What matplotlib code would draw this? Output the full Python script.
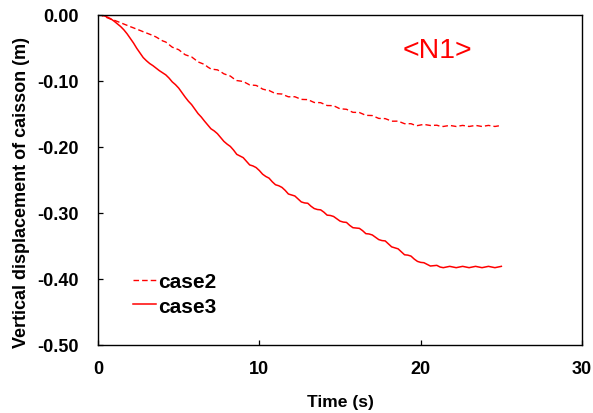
import numpy as np
import matplotlib
matplotlib.use('Agg')
matplotlib.rcParams.update({
    'font.family': ['Liberation Sans', 'DejaVu Sans'],
    'axes.unicode_minus': False,
})
import matplotlib.pyplot as plt
from matplotlib.ticker import FormatStrFormatter

# time grid, 0.2 s sampling from 0 to 25 s
time_s = np.linspace(0.0, 25.0, 126)

# case2 (dashed): vertical displacement (m)
case2 = [
    0.0, -0.001, -0.003, -0.005, -0.007, -0.0085, -0.0104, -0.0123, -0.0143, -0.0162,
    -0.0182, -0.0201, -0.0220, -0.0239, -0.0259, -0.0278, -0.0297, -0.0316, -0.0339, -0.0368,
    -0.0397, -0.0415, -0.0454, -0.0493, -0.0512, -0.0531, -0.0570, -0.0607, -0.0624, -0.0640,
    -0.0677, -0.0716, -0.0735, -0.0754, -0.0793, -0.0823, -0.0830, -0.0836, -0.0863, -0.0896,
    -0.0913, -0.0930, -0.0967, -0.0998, -0.1005, -0.1012, -0.1038, -0.1064, -0.1068, -0.1072,
    -0.1096, -0.1127, -0.1140, -0.1148, -0.1172, -0.1195, -0.1199, -0.1202, -0.1224, -0.1244,
    -0.1243, -0.1243, -0.1263, -0.1283, -0.1285, -0.1286, -0.1308, -0.1330, -0.1331, -0.1333,
    -0.1354, -0.1376, -0.1377, -0.1379, -0.1402, -0.1426, -0.1429, -0.1433, -0.1457, -0.1479,
    -0.1480, -0.1482, -0.1503, -0.1525, -0.1526, -0.1528, -0.1550, -0.1571, -0.1573, -0.1574,
    -0.1593, -0.1613, -0.1613, -0.1612, -0.1632, -0.1651, -0.1651, -0.1651, -0.1670, -0.1680,
    -0.1670, -0.1662, -0.1670, -0.1678, -0.1676, -0.1674, -0.1689, -0.1693, -0.1685, -0.1677,
    -0.1685, -0.1693, -0.1685, -0.1677, -0.1685, -0.1693, -0.1685, -0.1677, -0.1685, -0.1693,
    -0.1685, -0.1677, -0.1685, -0.1693, -0.1685, -0.1677,
]

# case3 (solid): vertical displacement (m)
case3 = [
    0.0, -0.0005, -0.002, -0.004, -0.0065, -0.010, -0.014, -0.018, -0.023, -0.029,
    -0.036, -0.043, -0.051, -0.058, -0.065, -0.0698, -0.074, -0.0772, -0.081, -0.0848,
    -0.088, -0.0912, -0.096, -0.1018, -0.106, -0.1112, -0.118, -0.1248, -0.131, -0.1362,
    -0.143, -0.1498, -0.155, -0.1612, -0.167, -0.1728, -0.176, -0.1802, -0.186, -0.1918,
    -0.196, -0.1995, -0.205, -0.2115, -0.214, -0.2165, -0.222, -0.2275, -0.229, -0.2315,
    -0.236, -0.2415, -0.245, -0.2475, -0.253, -0.2575, -0.259, -0.2615, -0.266, -0.2715,
    -0.273, -0.2745, -0.279, -0.2835, -0.285, -0.2855, -0.290, -0.2935, -0.295, -0.2955,
    -0.299, -0.3035, -0.304, -0.3055, -0.309, -0.3125, -0.314, -0.3145, -0.319, -0.3225,
    -0.323, -0.3235, -0.327, -0.3315, -0.332, -0.3335, -0.337, -0.3405, -0.342, -0.3425,
    -0.347, -0.3515, -0.353, -0.3545, -0.359, -0.3635, -0.364, -0.3655, -0.370, -0.3735,
    -0.375, -0.3755, -0.378, -0.3805, -0.380, -0.3795, -0.382, -0.383, -0.382, -0.381,
    -0.382, -0.383, -0.382, -0.381, -0.382, -0.383, -0.382, -0.381, -0.382, -0.383,
    -0.382, -0.381, -0.382, -0.383, -0.382, -0.381,
]

x_ticks = [0, 10, 20, 30]
y_ticks = [0.0, -0.1, -0.2, -0.3, -0.4, -0.5]

RED = '#ff0000'

fig = plt.figure(figsize=(5.93, 4.14), dpi=100)
ax = fig.add_axes([0.1653, 0.1643, 0.8162, 0.798])

ax.plot(time_s, case2, color=RED, linewidth=1.0, linestyle=(0, (4, 2.2)), label='case2')
ax.plot(time_s, case3, color=RED, linewidth=1.1, label='case3')

ax.set_xlim(0, 30)
ax.set_ylim(-0.5, 0.0)
ax.set_xticks(x_ticks)
ax.set_yticks(y_ticks)
ax.yaxis.set_major_formatter(FormatStrFormatter('%.2f'))
ax.tick_params(axis='both', direction='in', length=3.8, width=0.9,
               labelsize=13, top=False, right=False)
ax.tick_params(axis='y', pad=14)
ax.tick_params(axis='x', pad=11)
for lbl in ax.get_xticklabels() + ax.get_yticklabels():
    lbl.set_fontweight('bold')
for sp in ax.spines.values():
    sp.set_linewidth(1.0)

ax.set_xlabel('Time (s)', fontsize=12.6, fontweight='bold')
ax.set_ylabel('Vertical displacement of caisson (m)', fontsize=13, fontweight='bold')
ax.xaxis.set_label_coords(0.5, -0.148)
ax.yaxis.set_label_coords(-0.14, 0.466)

ax.text(0.702, 0.893, '<N1>', transform=ax.transAxes, color=RED,
        fontsize=20.5, ha='center', va='center')

ax.legend(loc='upper left', bbox_to_anchor=(0.0715, 0.22), frameon=False,
          prop={'size': 15, 'weight': 'bold'}, handlelength=1.1,
          handletextpad=0.1, labelspacing=0.26, borderaxespad=0, borderpad=0)

fig.savefig('out.png', dpi=100)
